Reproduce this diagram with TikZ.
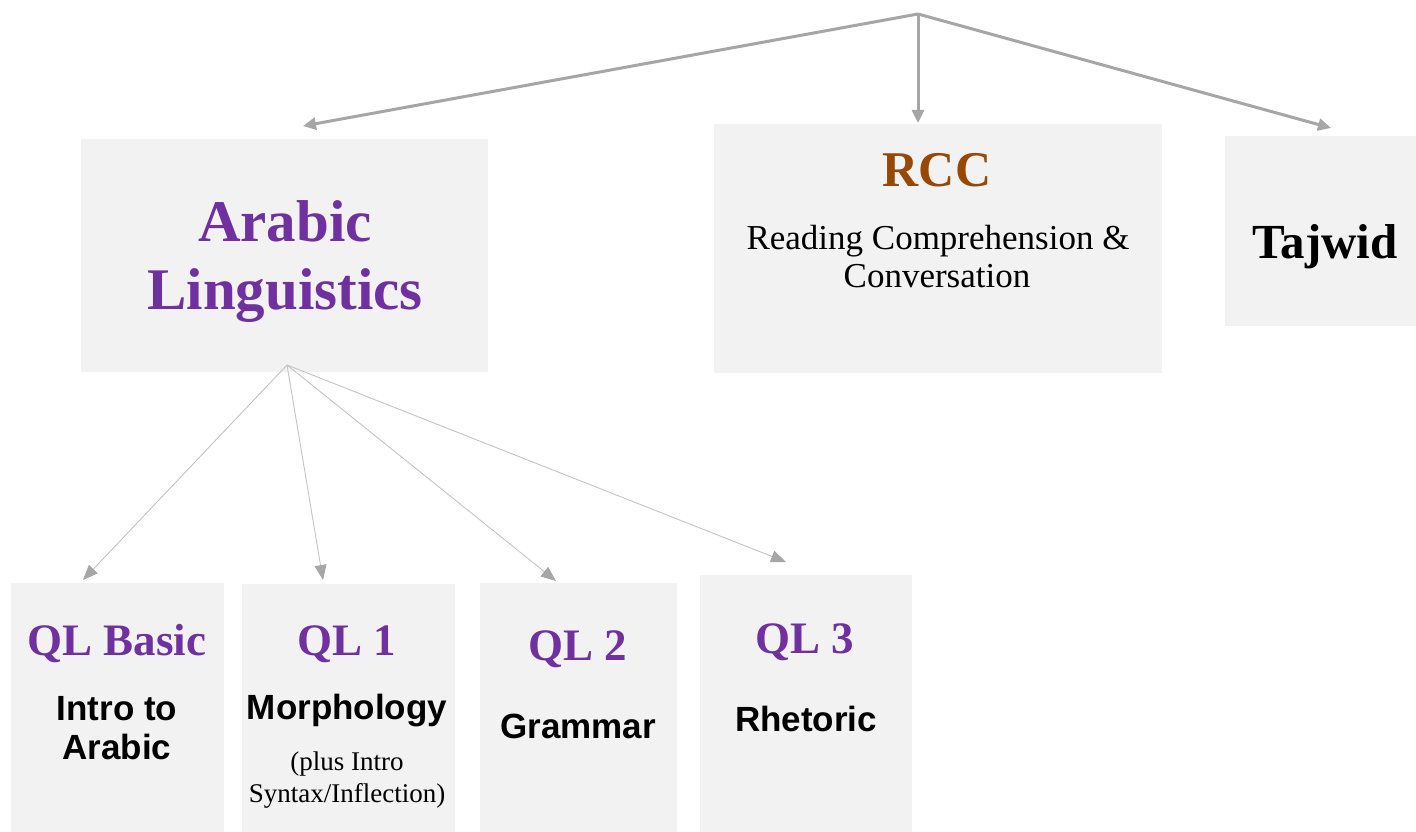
\documentclass[tikz,border=0pt]{standalone}
\usepackage{fontspec}
\setmainfont{Liberation Serif}
\setsansfont{Liberation Sans}
\usetikzlibrary{arrows.meta,calc}

\definecolor{boxfill}{HTML}{F2F2F2}
\definecolor{linkgray}{HTML}{A6A6A6}
\definecolor{thingray}{HTML}{C4C4C4}
\definecolor{titlepurple}{HTML}{7030A0}
\definecolor{titlebrown}{HTML}{974806}

\tikzset{
  box/.style={rectangle, fill=boxfill, draw=none, inner sep=0pt, outer sep=0pt, anchor=north west},
  txt/.style={inner sep=0pt, anchor=base},
  bigtitle/.style={txt, text=titlepurple, font=\fontsize{59}{70}\selectfont\bfseries},
  qltitle/.style={txt, text=titlepurple, font=\fontsize{45}{54}\selectfont\bfseries},
  subject/.style={txt, text=black, font=\sffamily\fontsize{35}{40}\selectfont\bfseries},
  note/.style={txt, text=black, font=\fontsize{27}{33}\selectfont},
  toplink/.style={draw=linkgray, line width=3pt, -{Triangle[length=13pt,width=12pt]}},
  sublink/.style={draw=thingray, line width=0.9pt, -{Triangle[length=15pt,width=12pt,color=linkgray]}}
}

\begin{document}
\begin{tikzpicture}[x=1pt,y=-1pt]
  \useasboundingbox (0,0) rectangle (1416,832);
  \fill[white] (0,0) rectangle (1416,832);

  % course boxes
  \node[box, minimum width=407pt, minimum height=233pt] (al)  at (81,139)   {};
  \node[box, minimum width=448pt, minimum height=249pt] (rcc) at (714,124)  {};
  \node[box, minimum width=191pt, minimum height=190pt] (taj) at (1225,136) {};
  \node[box, minimum width=213pt, minimum height=249pt] (qlb) at (11,583)   {};
  \node[box, minimum width=213pt, minimum height=248pt] (ql1) at (242,584)  {};
  \node[box, minimum width=197pt, minimum height=249pt] (ql2) at (480,583)  {};
  \node[box, minimum width=212pt, minimum height=257pt] (ql3) at (700,575)  {};

  % labels
  \node[bigtitle] (al-1) at (285,241) {Arabic};
  \node[bigtitle] (al-2) at (285,309) {Linguistics};

  \node[txt, text=titlebrown, font=\fontsize{50}{60}\selectfont\bfseries] (rcc-1) at (937,186) {RCC};
  \node[txt, font=\fontsize{35}{38}\selectfont] (rcc-2) at (938,249) {Reading Comprehension \&};
  \node[txt, font=\fontsize{35}{38}\selectfont] (rcc-3) at (937,287) {Conversation};

  \node[txt, font=\fontsize{49}{58}\selectfont\bfseries] (taj-1) at (1325,258) {Tajwid};

  \node[qltitle] (qlb-1) at (117,655) {QL Basic};
  \node[subject] (qlb-2) at (117,720) {Intro to};
  \node[subject] (qlb-3) at (117,759) {Arabic};

  \node[qltitle] (ql1-1) at (347,655) {QL 1};
  \node[subject] (ql1-2) at (347,719) {Morphology};
  \node[note]    (ql1-3) at (347,770) {(plus Intro};
  \node[note]    (ql1-4) at (347,802) {Syntax/Inflection)};

  \node[qltitle] (ql2-1) at (578,660) {QL 2};
  \node[subject] (ql2-2) at (578,738) {Grammar};

  \node[qltitle] (ql3-1) at (805,653) {QL 3};
  \node[subject] (ql3-2) at (806,731) {Rhetoric};

  % branching points and arrow ends
  \coordinate (root) at (918,14);
  \coordinate (al-in)  at ($(al.north west)+(222,-13)$);
  \coordinate (rcc-in) at ($(rcc.north west)+(204,-1)$);
  \coordinate (taj-in) at ($(taj.north west)+(106,-8)$);
  \coordinate (al-out) at ($(al.south)+(2.5,-7)$);
  \coordinate (qlb-in) at ($(qlb.north west)+(72,-3)$);
  \coordinate (ql1-in) at ($(ql1.north west)+(81,-4)$);
  \coordinate (ql2-in) at ($(ql2.north west)+(76,-2)$);
  \coordinate (ql3-in) at ($(ql3.north west)+(86,-13)$);

  % top level links
  \draw[toplink] (root) -- (al-in);
  \draw[toplink] (root) -- (rcc-in);
  \draw[toplink] (root) -- (taj-in);

  % Arabic Linguistics levels
  \draw[sublink] (al-out) -- (qlb-in);
  \draw[sublink] (al-out) -- (ql1-in);
  \draw[sublink] (al-out) -- (ql2-in);
  \draw[sublink] (al-out) -- (ql3-in);
\end{tikzpicture}
\end{document}
